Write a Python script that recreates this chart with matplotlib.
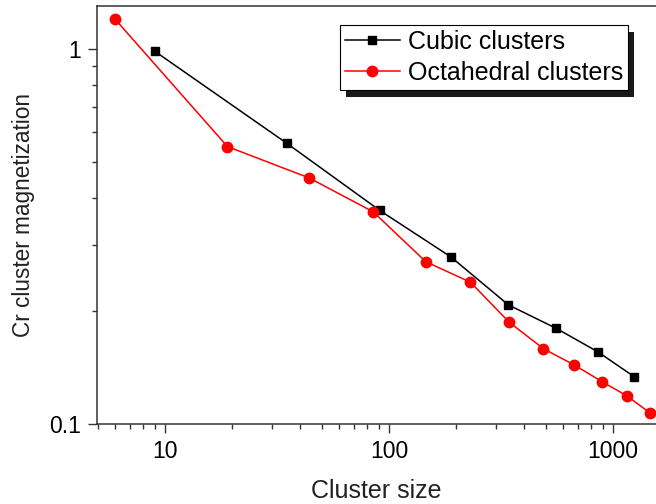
import matplotlib
matplotlib.use("Agg")
import matplotlib.pyplot as plt
from matplotlib.patches import Rectangle
from matplotlib.ticker import LogLocator, NullFormatter, FixedLocator, FixedFormatter

plt.rcParams["font.family"] = ["Liberation Sans", "DejaVu Sans"]

# bcc cubic cluster sizes and their magnetization
cubic_size = [9, 35, 91, 189, 341, 559, 855, 1241]
cubic_mag = [0.985, 0.560, 0.371, 0.279, 0.208, 0.180, 0.156, 0.134]

# octahedral cluster sizes and their magnetization
octa_size = [6, 19, 44, 85, 146, 231, 344, 489, 670, 891, 1156, 1469]
octa_mag = [1.197, 0.549, 0.453, 0.368, 0.271, 0.239, 0.187, 0.159, 0.144, 0.130, 0.119, 0.107]

x_ticks = [10, 100, 1000]
x_tick_labels = ["10", "100", "1000"]
y_ticks = [0.1, 1]
y_tick_labels = ["0.1", "1"]

fig = plt.figure(figsize=(6.56, 5.04), dpi=100)
ax = fig.add_axes([97/656, 1 - 424.3/504, 559/656, (424.3 - 6)/504])

ax.plot(cubic_size, cubic_mag, color="black", lw=1.1, marker="s", ms=6.3,
        label="Cubic clusters", zorder=3)
ax.plot(octa_size, octa_mag, color="#ff0000", lw=1.1, marker="o", ms=7.5,
        label="Octahedral clusters", zorder=3)

ax.set_xscale("log")
ax.set_yscale("log")
ax.set_xlim(4.97, 1556)
ax.set_ylim(0.1, 1.30)

# Major/minor ticks
ax.xaxis.set_major_locator(FixedLocator(x_ticks))
ax.xaxis.set_major_formatter(FixedFormatter(x_tick_labels))
ax.yaxis.set_major_locator(FixedLocator(y_ticks))
ax.yaxis.set_major_formatter(FixedFormatter(y_tick_labels))
ax.xaxis.set_minor_locator(LogLocator(base=10, subs=range(2, 10)))
ax.yaxis.set_minor_locator(LogLocator(base=10, subs=range(2, 10)))
ax.xaxis.set_minor_formatter(NullFormatter())
ax.yaxis.set_minor_formatter(NullFormatter())

spine_col = "#333333"
for side in ["left", "bottom", "top"]:
    ax.spines[side].set_color(spine_col)
    ax.spines[side].set_linewidth(1.1)
ax.spines["right"].set_visible(False)

ax.tick_params(which="major", direction="out", length=6.5, width=1.0,
               color=spine_col, labelsize=16.5, pad=5, top=False, right=False)
ax.tick_params(which="minor", direction="out", length=3.5, width=1.0,
               color=spine_col, top=False, right=False)

ax.set_xlabel("Cluster size", fontsize=18, labelpad=11.5, color="#222222")
ax.set_ylabel("Cr cluster magnetization", fontsize=16.3, labelpad=10.5, color="#222222")

leg = ax.legend(loc="upper right", bbox_to_anchor=(0.95, 0.955), borderaxespad=0,
                fontsize=18, fancybox=False, edgecolor="black", framealpha=1,
                handlelength=2.2, handletextpad=0.32, labelspacing=0.27,
                borderpad=0.2)
leg.get_frame().set_linewidth(0.8)
leg.set_zorder(5)

# solid drop shadow behind the legend box
fig.canvas.draw()
bb = leg.get_frame().get_window_extent().transformed(ax.transAxes.inverted())
dx = 6 / 559
dy = 7 / 418.3
ax.add_patch(Rectangle((bb.x0 + dx, bb.y0 - dy), bb.width, bb.height,
                       transform=ax.transAxes, facecolor="#1a1a1a",
                       edgecolor="none", zorder=4.9, clip_on=False))

fig.savefig("out.png", dpi=100)
